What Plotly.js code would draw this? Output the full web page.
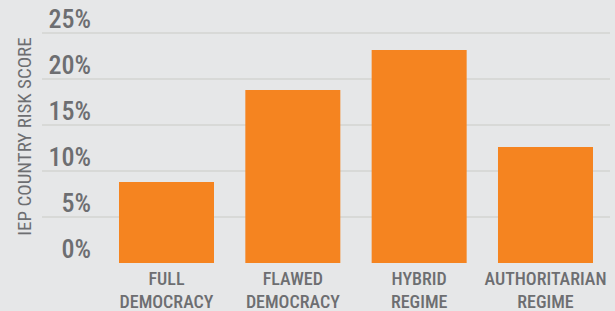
<!DOCTYPE html>
<html>
<head>
<meta charset="utf-8">
<script src="https://cdn.plot.ly/plotly-3.0.1.min.js"></script>
<style>
  html, body { margin: 0; padding: 0; background: #e6e7e8; }
  #chart { width: 615px; height: 311px; }
</style>
</head>
<body>
<div id="chart"></div>
<script>
const categories = ["FULL<br>DEMOCRACY", "FLAWED<br>DEMOCRACY", "HYBRID<br>REGIME", "AUTHORITARIAN<br>REGIME"];
const riskScore = [8.8, 18.8, 23.15, 12.6];
const yTickVals = [0, 5, 10, 15, 20, 25];
const yTickText = ["0%", "5%", "10%", "15%", "20%", "25%"];

const FONT = '"Roboto Condensed", Roboto, sans-serif';
const GRAY = '#6d6e71';
const Y_RANGE = [0, 27.5];

const barTrace = {
  type: 'bar',
  x: [0, 1, 2, 3],
  y: riskScore,
  marker: { color: '#f58420', line: { width: 0 } },
  hoverinfo: 'none'
};
// empty trace so that the grid-only overlay axis is drawn
const gridTrace = { type: 'scatter', x: [], y: [], yaxis: 'y2', hoverinfo: 'none' };

const layout = {
  width: 615,
  height: 311,
  margin: { l: 42, r: 5, t: 10, b: 48 },
  paper_bgcolor: '#e6e7e8',
  plot_bgcolor: '#e6e7e8',
  bargap: 0.248,
  showlegend: false,
  font: { family: FONT, color: GRAY },
  xaxis: {
    range: [-0.9855, 3.5106],
    tickmode: 'array',
    tickvals: [0, 1, 2, 3],
    ticktext: categories,
    showgrid: false,
    zeroline: false,
    showline: false,
    ticks: '',
    ticklabelstandoff: 3,
    tickfont: { family: FONT, size: 18, color: GRAY, weight: 500 },
    automargin: false
  },
  yaxis: {
    range: Y_RANGE,
    tickmode: 'array',
    tickvals: yTickVals,
    ticktext: yTickText,
    showgrid: false,
    zeroline: false,
    showline: false,
    ticks: '',
    ticklabelposition: 'outside top',
    ticklabeloverflow: 'allow',
    ticklabelstandoff: -50,
    ticklabelshift: 4,
    tickfont: { family: FONT, size: 26, color: GRAY, weight: 500 },
    automargin: false,
    title: { text: 'IEP COUNTRY RISK SCORE', standoff: 11, font: { family: FONT, size: 19, color: GRAY, weight: 400 } }
  },
  yaxis2: {
    overlaying: 'y',
    range: Y_RANGE,
    tickmode: 'array',
    tickvals: yTickVals,
    showticklabels: false,
    showgrid: true,
    gridcolor: '#d8d9d7',
    gridwidth: 2,
    zeroline: false,
    showline: false,
    ticks: '',
    automargin: false
  }
};

Plotly.newPlot('chart', [barTrace, gridTrace], layout, { displayModeBar: false, staticPlot: true });
</script>
</body>
</html>
